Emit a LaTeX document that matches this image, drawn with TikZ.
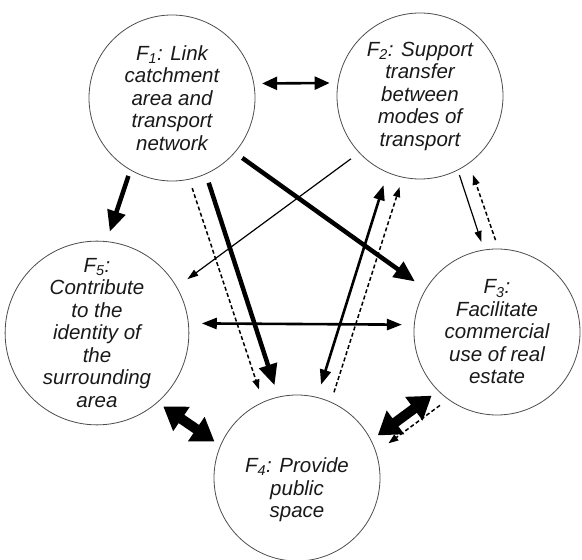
\documentclass[tikz,border=0pt]{standalone}
\usepackage{fontspec}
\setmainfont{Liberation Sans}
\usetikzlibrary{arrows.meta}
\begin{document}
\begin{tikzpicture}[x=1pt,y=1pt,
  fcircle/.style={circle, draw=black!70, line width=0.8pt, minimum size=166pt,
    inner sep=0pt, align=center, text=black!90,
    font=\itshape\fontsize{20.5}{22.5}\selectfont},
  ftext/.style={align=center, text=black!90, inner sep=0pt,
    font=\itshape\fontsize{20.5}{22.5}\selectfont},
  heavy/.style={line width=4.5pt, -{Triangle[length=21pt,width=18pt]}},
  medium/.style={line width=2.6pt,
    {Triangle[length=15pt,width=13pt]}-{Triangle[length=15pt,width=13pt]}},
  mediumtwo/.style={line width=2.6pt,
    {Triangle[length=15pt,width=11pt]}-{Triangle[length=15pt,width=11pt]}},
  light/.style={line width=1.2pt, -{Triangle[length=11pt,width=7pt]}},
  dashedarrow/.style={line width=1.5pt, dash pattern=on 4pt off 2.5pt,
    -{Triangle[length=10pt,width=7pt]}},
  block/.style={line width=10pt,
    {Triangle[length=22pt,width=28pt]}-{Triangle[length=22pt,width=28pt]}},
]
\useasboundingbox (0,0) rectangle (582,560);

% the five functions
\node[fcircle] (F1) at (172,462) {F\textsubscript{1}: Link\\catchment\\area and\\transport\\network};
\node[fcircle] (F2) at (420,464) {F\textsubscript{2}: Support\\transfer\\between\\modes of\\transport};
\node[fcircle] (F3) at (497,228) {F\textsubscript{3}:\\Facilitate\\commercial\\use of real\\estate};
\node[fcircle] (F4) at (297,82) {};
\node[ftext] (F4t) at (297,70) {F\textsubscript{4}: Provide\\public\\space};
\node[fcircle] (F5) at (97,227) {F\textsubscript{5}:\\Contribute\\to the\\identity of\\the\\surrounding\\area};

% relations leaving F1
\draw[medium, shorten <=8pt, shorten >=8pt] (F1.10) -- (F2.171);
\draw[heavy, shorten <=6pt, shorten >=10pt] (F1.240) -- (F5.84);
\draw[heavy, shorten <=9pt, shorten >=12pt] (F1.294) -- (F4.103);
\draw[dashedarrow, shorten <=9pt, shorten >=13pt] (F1.282) -- (F4.114);
\draw[heavy, shorten <=9pt, shorten >=13pt] (F1.319) -- (F3.149);

% relations leaving F2
\draw[light, shorten <=10pt, shorten >=13pt] (F2.223) -- (F5.30);
\draw[light, shorten <=5pt, shorten >=8pt] (F2.297) -- (F3.99);

% remaining relations
\draw[dashedarrow, shorten <=9pt, shorten >=12pt] (F3.89) -- (F2.306);
\draw[mediumtwo, shorten <=13pt, shorten >=12pt] (F5.6) -- (F3.175);
\draw[mediumtwo, shorten <=13pt, shorten >=13pt] (F4.76) -- (F2.247);
\draw[dashedarrow, shorten <=10pt, shorten >=10pt] (F4.66) -- (F2.258);
\draw[block, shorten <=8pt, shorten >=8pt] (F4.27) -- (F3.225);
\draw[dashedarrow, shorten <=10pt, shorten >=15pt] (F3.234) -- (F4.18);
\draw[block, shorten <=7pt, shorten >=7pt] (F5.311) -- (F4.157);
\end{tikzpicture}
\end{document}
